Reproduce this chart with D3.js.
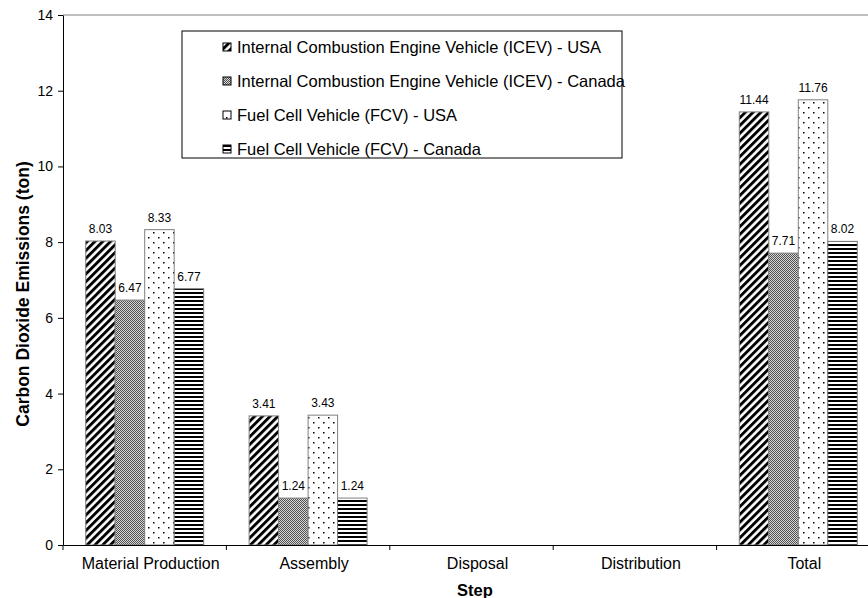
<!DOCTYPE html>
<html>
<head>
<meta charset="utf-8">
<script src="https://cdn.jsdelivr.net/npm/d3@7"></script>
<style>
  html, body { margin: 0; padding: 0; background: #fff; }
  svg { display: block; font-family: "Liberation Sans", Arial, sans-serif; }
</style>
</head>
<body>
<svg id="chart" width="868" height="598"></svg>
<script>
// Life-cycle CO2 emissions per vehicle, by production step
const steps = ["Material Production", "Assembly", "Disposal", "Distribution", "Total"];
const seriesNames = [
  "Internal Combustion Engine Vehicle (ICEV) - USA",
  "Internal Combustion Engine Vehicle (ICEV) - Canada",
  "Fuel Cell Vehicle (FCV) - USA",
  "Fuel Cell Vehicle (FCV) - Canada"
];
const icevUSA    = [8.03, 3.41, null, null, 11.44];
const icevCanada = [6.47, 1.24, null, null, 7.71];
const fcvUSA     = [8.33, 3.43, null, null, 11.76];
const fcvCanada  = [6.77, 1.24, null, null, 8.02];
const yTicks = [0, 2, 4, 6, 8, 10, 12, 14];

const seriesValues = [icevUSA, icevCanada, fcvUSA, fcvCanada];
const patternIds = ["p-diag", "p-check", "p-dots", "p-hstripe"];
const FONT = "Liberation Sans, Arial, sans-serif";

const svg = d3.select("#chart");
const plot = { left: 63, right: 880, top: 15, bottom: 545 };

// Fill patterns for the four series
const defs = svg.append("defs");
const diag = defs.append("pattern").attr("id", "p-diag")
  .attr("patternUnits", "userSpaceOnUse").attr("width", 5.5).attr("height", 5.5)
  .attr("patternTransform", "rotate(45)");
diag.append("rect").attr("width", 5.5).attr("height", 5.5).attr("fill", "#fff");
diag.append("rect").attr("x", 0).attr("width", 2.9).attr("height", 5.5).attr("fill", "#000");

const check = defs.append("pattern").attr("id", "p-check")
  .attr("patternUnits", "userSpaceOnUse").attr("width", 2).attr("height", 2);
check.append("rect").attr("width", 2).attr("height", 2).attr("fill", "#d8d8d8");
check.append("rect").attr("width", 1).attr("height", 1).attr("fill", "#505050");
check.append("rect").attr("x", 1).attr("y", 1).attr("width", 1).attr("height", 1).attr("fill", "#505050");

const dots = defs.append("pattern").attr("id", "p-dots")
  .attr("patternUnits", "userSpaceOnUse").attr("width", 10).attr("height", 10);
dots.append("rect").attr("width", 10).attr("height", 10).attr("fill", "#fff");
dots.append("rect").attr("x", 3).attr("y", 2).attr("width", 1.5).attr("height", 1.5).attr("fill", "#000");
dots.append("rect").attr("x", 8).attr("y", 7).attr("width", 1.5).attr("height", 1.5).attr("fill", "#000");

const hs = defs.append("pattern").attr("id", "p-hstripe")
  .attr("patternUnits", "userSpaceOnUse").attr("width", 4).attr("height", 4);
hs.append("rect").attr("width", 4).attr("height", 4).attr("fill", "#fff");
hs.append("rect").attr("y", 0).attr("width", 4).attr("height", 2).attr("fill", "#000");

// Scales
const x = d3.scaleBand().domain(steps).range([plot.left, plot.right]).padding(0);
const bw = x.bandwidth();
const xInner = d3.scaleBand().domain(d3.range(seriesNames.length))
  .range([bw * 0.139, bw * 0.861]).padding(0);
const y = d3.scaleLinear().domain([0, 14]).range([plot.bottom, plot.top]);

// Plot frame top edge
svg.append("line")
  .attr("x1", plot.left).attr("x2", plot.right)
  .attr("y1", y(14)).attr("y2", y(14))
  .attr("stroke", "#808080").attr("stroke-width", 1);

// Bars
const barData = [];
steps.forEach((s, i) => {
  seriesValues.forEach((arr, k) => {
    if (arr[i] != null) barData.push({ step: s, k, v: arr[i] });
  });
});

svg.append("g").selectAll("rect").data(barData).join("rect")
  .attr("x", d => x(d.step) + xInner(d.k))
  .attr("y", d => y(d.v))
  .attr("width", xInner.bandwidth())
  .attr("height", d => y(0) - y(d.v))
  .attr("fill", d => `url(#${patternIds[d.k]})`)
  .attr("stroke", "#808080").attr("stroke-width", 1);

// Value labels
svg.append("g").selectAll("text").data(barData).join("text")
  .attr("x", d => x(d.step) + xInner(d.k) + xInner.bandwidth() / 2)
  .attr("y", d => y(d.v) - 8)
  .attr("text-anchor", "middle")
  .attr("font-size", 12)
  .attr("fill", "#000")
  .text(d => d.v.toFixed(2));

// Y axis
const yAxis = svg.append("g").attr("transform", `translate(${plot.left},0)`)
  .call(d3.axisLeft(y).tickValues(yTicks).tickSize(5).tickSizeOuter(0).tickFormat(d3.format("d")));
yAxis.select(".domain").attr("stroke", "#000");
yAxis.selectAll(".tick line").attr("stroke", "#000");
yAxis.selectAll(".tick text").attr("font-size", 14).attr("font-family", FONT)
  .attr("fill", "#000").attr("x", -10);

// X axis: labels centred in bands, ticks on band boundaries
const xAxis = svg.append("g").attr("transform", `translate(0,${plot.bottom})`)
  .call(d3.axisBottom(x).tickSize(0).tickSizeOuter(0));
xAxis.select(".domain").attr("stroke", "#000");
xAxis.selectAll(".tick text").attr("font-size", 16).attr("font-family", FONT)
  .attr("fill", "#000").attr("dy", 0).attr("y", 24).attr("x", 6);
svg.append("g").selectAll("line").data(steps).join("line")
  .attr("x1", d => x(d)).attr("x2", d => x(d))
  .attr("y1", plot.bottom).attr("y2", plot.bottom + 5)
  .attr("stroke", "#000");

// Axis titles
svg.append("text")
  .attr("x", 475).attr("y", 596)
  .attr("text-anchor", "middle").attr("font-size", 16.5).attr("font-weight", "bold")
  .text("Step");
svg.append("text")
  .attr("transform", "translate(29,294) rotate(-90)")
  .attr("text-anchor", "middle").attr("font-size", 17.5).attr("font-weight", "bold")
  .text("Carbon Dioxide Emissions (ton)");

// Legend
const legend = svg.append("g").attr("transform", "translate(182,31)");
legend.append("rect").attr("width", 440).attr("height", 127)
  .attr("fill", "#fff").attr("stroke", "#000").attr("stroke-width", 1);
const items = legend.selectAll("g.item").data(seriesNames).join("g")
  .attr("class", "item")
  .attr("transform", (d, i) => `translate(41,${16 + i * 34})`);
items.append("rect").attr("x", 0).attr("y", -4).attr("width", 8).attr("height", 8)
  .attr("fill", (d, i) => `url(#${patternIds[i]})`)
  .attr("stroke", "#000").attr("stroke-width", 1);
items.append("text").attr("x", 14).attr("y", 0).attr("dy", "0.35em")
  .attr("font-size", 16.5).attr("fill", "#000").text(d => d);
</script>
</body>
</html>
